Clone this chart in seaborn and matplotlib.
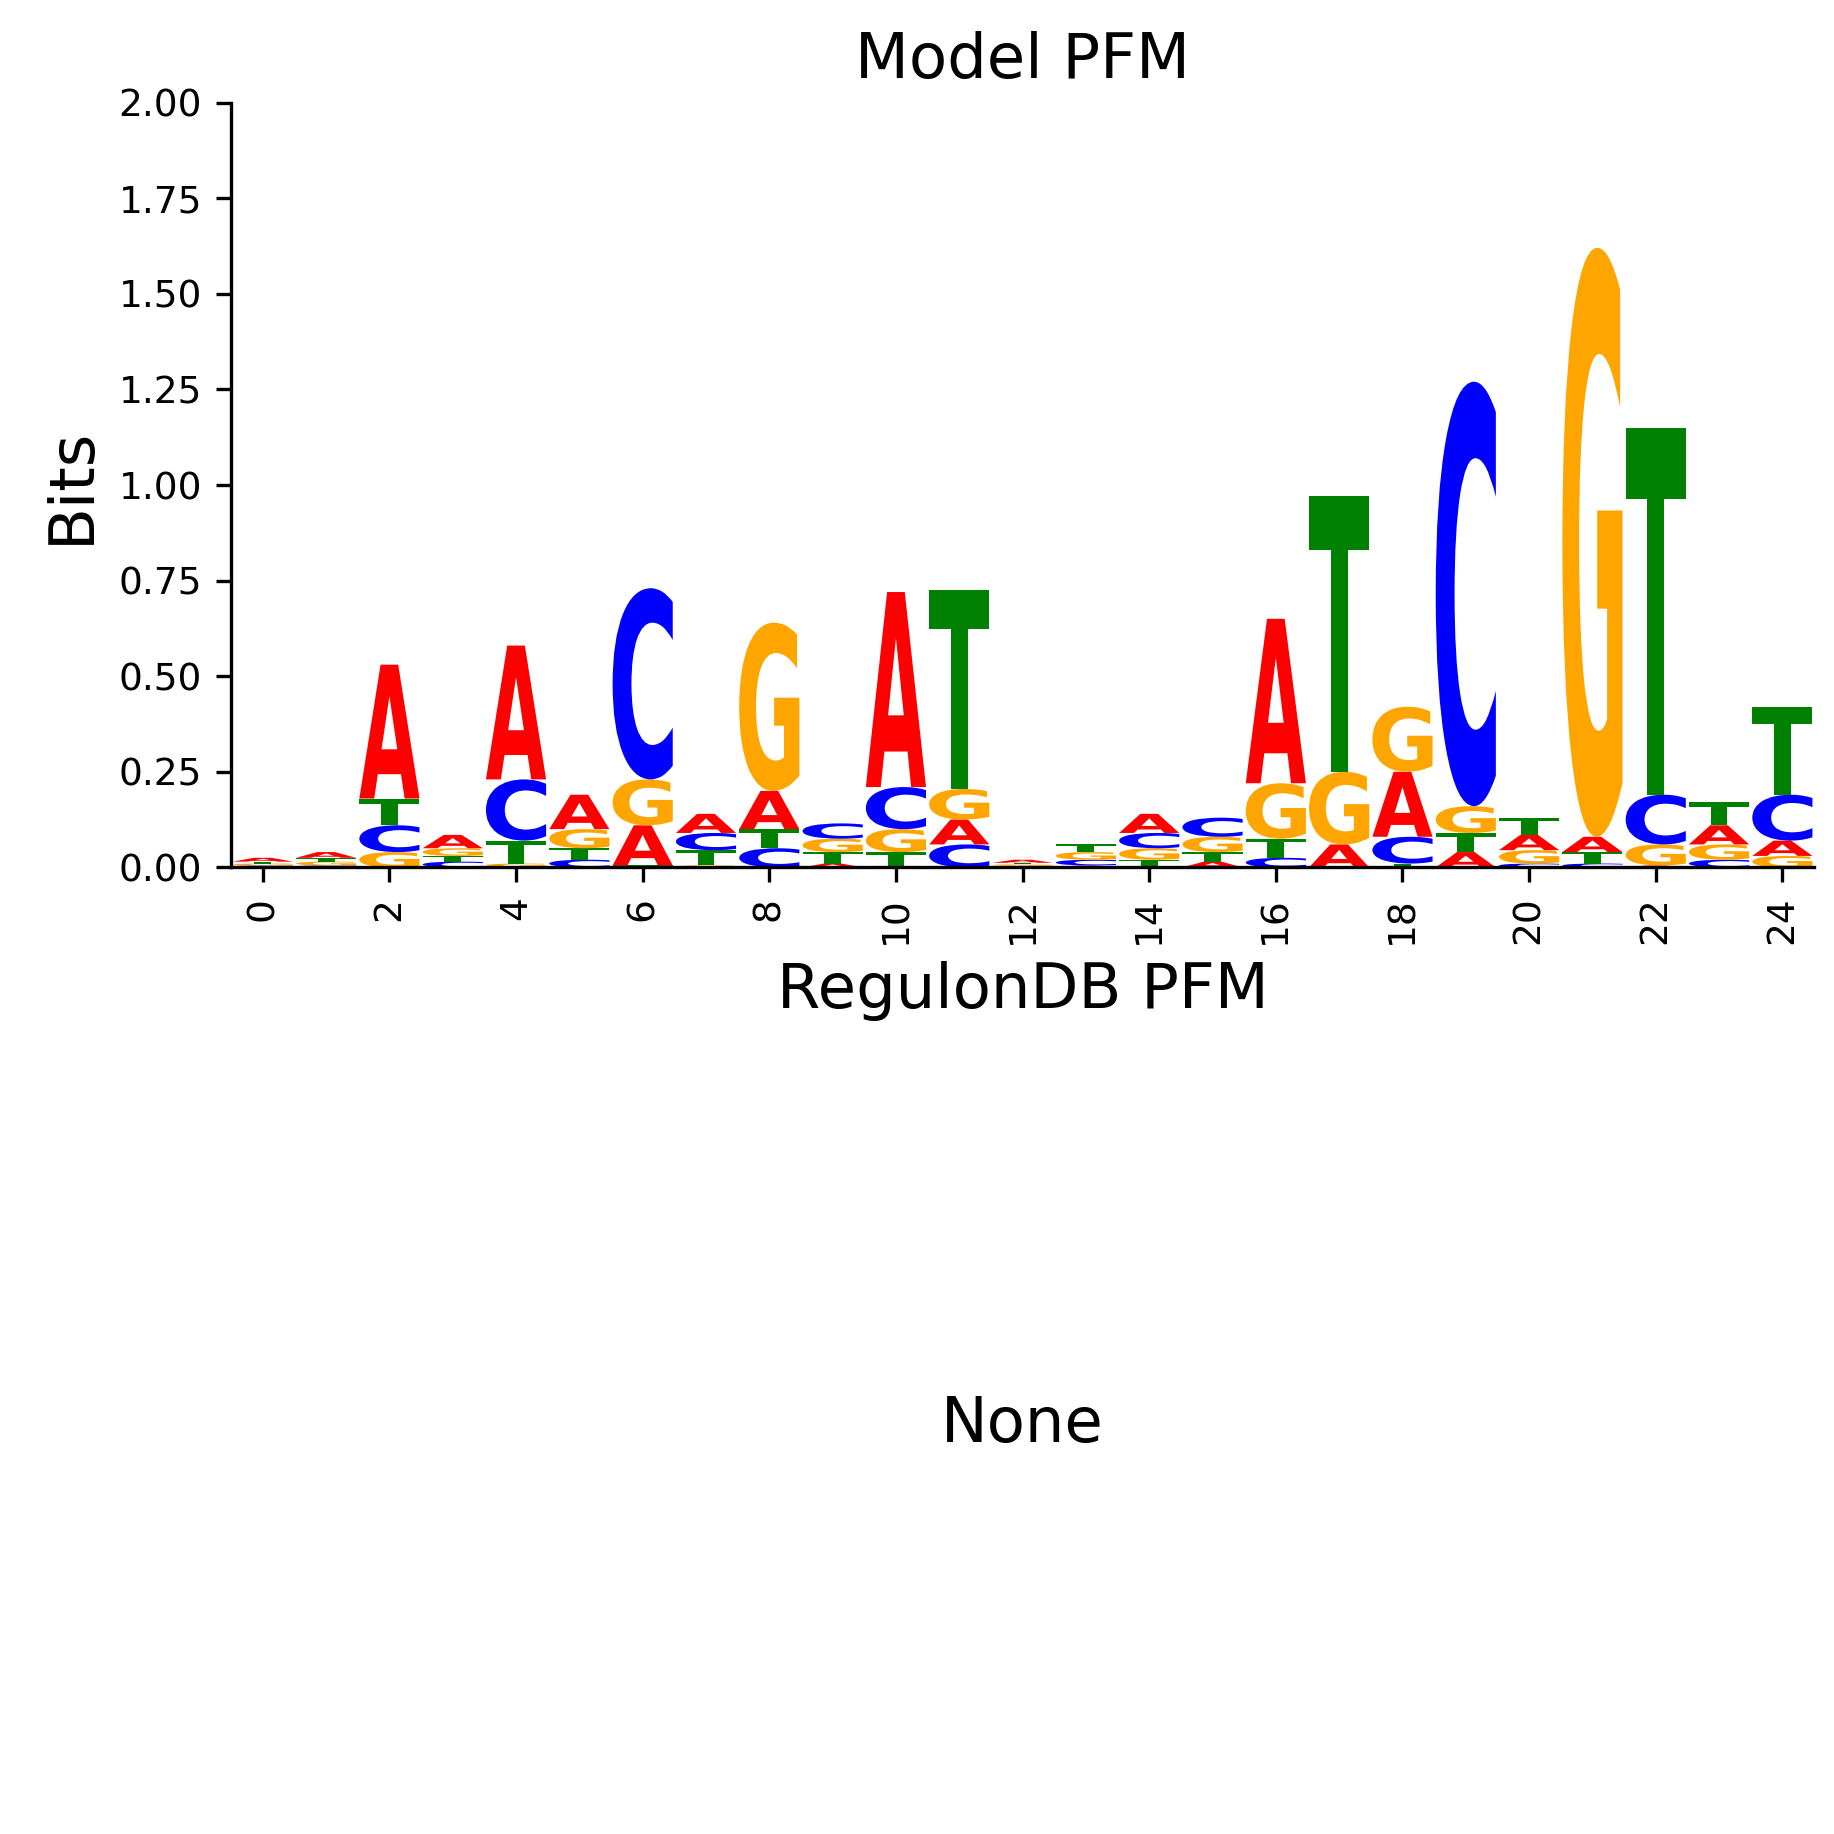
import numpy as np
import pandas as pd
import matplotlib
matplotlib.use("Agg")
import matplotlib.pyplot as plt
import seaborn as sns
from matplotlib.textpath import TextPath
from matplotlib.patches import PathPatch
from matplotlib.font_manager import FontProperties
from matplotlib.transforms import Affine2D

sns.set_style("ticks")
plt.rcParams.update({"text.color": "black", "axes.labelcolor": "black",
                     "xtick.color": "black", "ytick.color": "black",
                     "axes.edgecolor": "black"})

positions = list(range(25))
# information content (bits) per letter at each position
bits_A = [0.010, 0.015, 0.350, 0.035, 0.350, 0.090, 0.105, 0.050, 0.100, 0.010, 0.510, 0.065, 0.008,
          0.005, 0.050, 0.015, 0.430, 0.060, 0.170, 0.040, 0.040, 0.040, 0.005, 0.050, 0.040]
bits_C = [0.005, 0.005, 0.070, 0.015, 0.160, 0.020, 0.500, 0.045, 0.050, 0.040, 0.110, 0.060, 0.004,
          0.015, 0.040, 0.050, 0.025, 0.000, 0.070, 1.110, 0.010, 0.010, 0.130, 0.020, 0.120]
bits_G = [0.005, 0.010, 0.040, 0.020, 0.010, 0.050, 0.120, 0.005, 0.440, 0.035, 0.060, 0.080, 0.004,
          0.020, 0.030, 0.040, 0.145, 0.190, 0.170, 0.070, 0.035, 1.540, 0.055, 0.040, 0.030]
bits_T = [0.005, 0.010, 0.070, 0.015, 0.060, 0.030, 0.005, 0.040, 0.050, 0.030, 0.040, 0.520, 0.004,
          0.020, 0.020, 0.025, 0.050, 0.720, 0.010, 0.050, 0.045, 0.030, 0.960, 0.060, 0.230]
tick_positions = list(range(0, 25, 2))

df = pd.DataFrame({"A": bits_A, "C": bits_C, "G": bits_G, "T": bits_T}, index=positions)
colors = {"A": "red", "C": "blue", "G": "orange", "T": "green"}
font = FontProperties(family="DejaVu Sans", weight="bold")


def draw_letter(ax, ch, x, y, w, h):
    if h <= 0:
        return
    tp = TextPath((0, 0), ch, size=1, prop=font)
    ext = tp.get_extents()
    tr = (Affine2D().translate(-ext.x0, -ext.y0)
          .scale(w / ext.width, h / ext.height)
          .translate(x - w / 2, y))
    ax.add_patch(PathPatch(tr.transform_path(tp), facecolor=colors[ch],
                           edgecolor="none"))


fig = plt.figure(figsize=(6.114, 6.114), dpi=300)
ax = fig.add_axes([0.126, 0.527, 0.863, 0.417])
ax2 = fig.add_axes([0.126, 0.03, 0.863, 0.17])

for pos in df.index:
    row = df.loc[pos].sort_values(kind="stable")
    y = 0.0
    for ch, h in row.items():
        draw_letter(ax, ch, pos, y, 0.95, h)
        y += h

ax.set_xlim(-0.5, 24.5)
ax.set_ylim(0, 2)
ax.set_yticks(np.arange(0, 2.01, 0.25))
ax.set_yticklabels([f"{v:.2f}" for v in np.arange(0, 2.01, 0.25)], fontsize=9)
ax.set_xticks(tick_positions)
ax.set_xticklabels([str(t) for t in tick_positions], rotation=90, fontsize=9)
ax.set_ylabel("Bits", fontsize=15)
ax.set_xlabel("RegulonDB PFM", fontsize=15)
ax.set_title("Model PFM", fontsize=15)
sns.despine(ax=ax)

ax2.axis("off")
ax2.set_title("None", fontsize=15)

fig.savefig("out.png", dpi=300)
